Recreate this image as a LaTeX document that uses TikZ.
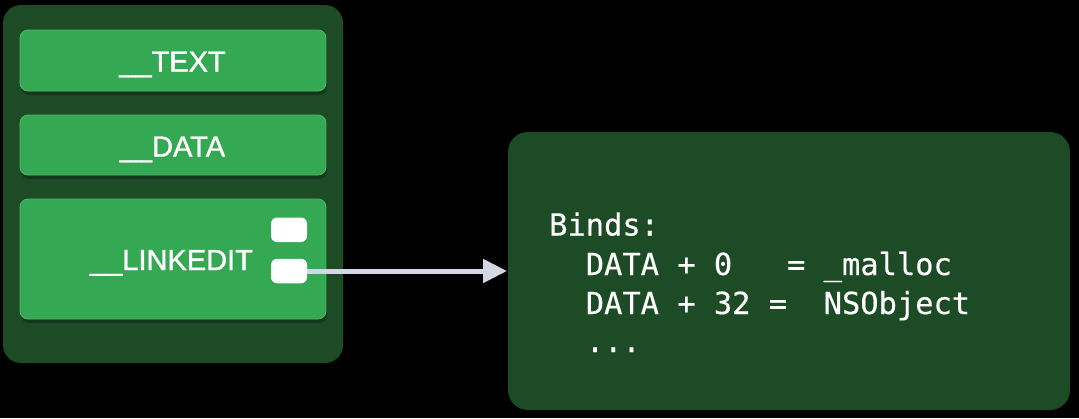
\documentclass[tikz,border=0pt]{standalone}
\usepackage{fontspec}
\usetikzlibrary{arrows.meta}
\setmainfont{Liberation Sans}
\newfontface\lblfont{Liberation Sans}[FakeBold=1.2]
\newfontface\codefont{DejaVu Sans Mono}[FakeBold=0.4]
\definecolor{bgblack}{HTML}{000000}
\definecolor{darkgreen}{HTML}{1C4B25}
\definecolor{boxgreen}{HTML}{34A852}
\definecolor{boxedge}{HTML}{4DB868}
\definecolor{arrowgray}{HTML}{D0D8E4}
\tikzset{
  seg/.style={fill=boxgreen, draw=boxedge, line width=0.8pt, rounded corners=8pt},
  tag/.style={fill=white, rounded corners=6pt},
  lbl/.style={text=white, font=\lblfont\fontsize{29}{30}\selectfont, anchor=base, inner sep=0pt},
  code/.style={text=white, font=\codefont\fontsize{30.4}{32}\selectfont, anchor=base west, inner sep=0pt},
}
\begin{document}
\begin{tikzpicture}[x=1pt, y=-1pt]
\fill[bgblack] (0,0) rectangle (1079,418);
\useasboundingbox (0,0) rectangle (1079,418);
% outer container
\fill[darkgreen, rounded corners=18pt] (3,5) rectangle (343,363);
% segments
\fill[black, opacity=0.25, rounded corners=8pt] (21,33) rectangle (327,95);
\fill[black, opacity=0.25, rounded corners=8pt] (21,118) rectangle (327,179);
\fill[black, opacity=0.25, rounded corners=8pt] (21,202) rectangle (327,323);
\draw[seg] (20,30) rectangle (326,91);
\draw[seg] (20,115) rectangle (326,175);
\draw[seg] (20,199) rectangle (326,319);
\node[lbl] (text) at (172.5,71.5) {\_\_TEXT};
\node[lbl] (data) at (172.5,156.5) {\_\_DATA};
\node[lbl] (linkedit) at (171.5,270) {\_\_LINKEDIT};
% tags
\node[tag, minimum width=36pt, minimum height=24.5pt, inner sep=0pt] (tagA) at (289,229.75) {};
\node[tag, minimum width=36pt, minimum height=24.5pt, inner sep=0pt] (tagB) at (289,271) {};
% right box
\fill[darkgreen, rounded corners=20pt] (508,132) rectangle (1070,410);
\coordinate (target) at (507,271);
\draw[arrowgray, line width=5pt, -{Triangle[length=24pt, width=23pt]}] (tagB.east) -- (target);
% code
\node[code] (l1) at (549,235.5) {Binds:};
\node[code] (l2) at (549,275) {\ \ DATA + 0\ \ \ = \_malloc};
\node[code] (l3) at (549,314) {\ \ DATA + 32 =\ \ NSObject};
\node[code] (l4) at (549,352) {\ \ ...};
\end{tikzpicture}
\end{document}
